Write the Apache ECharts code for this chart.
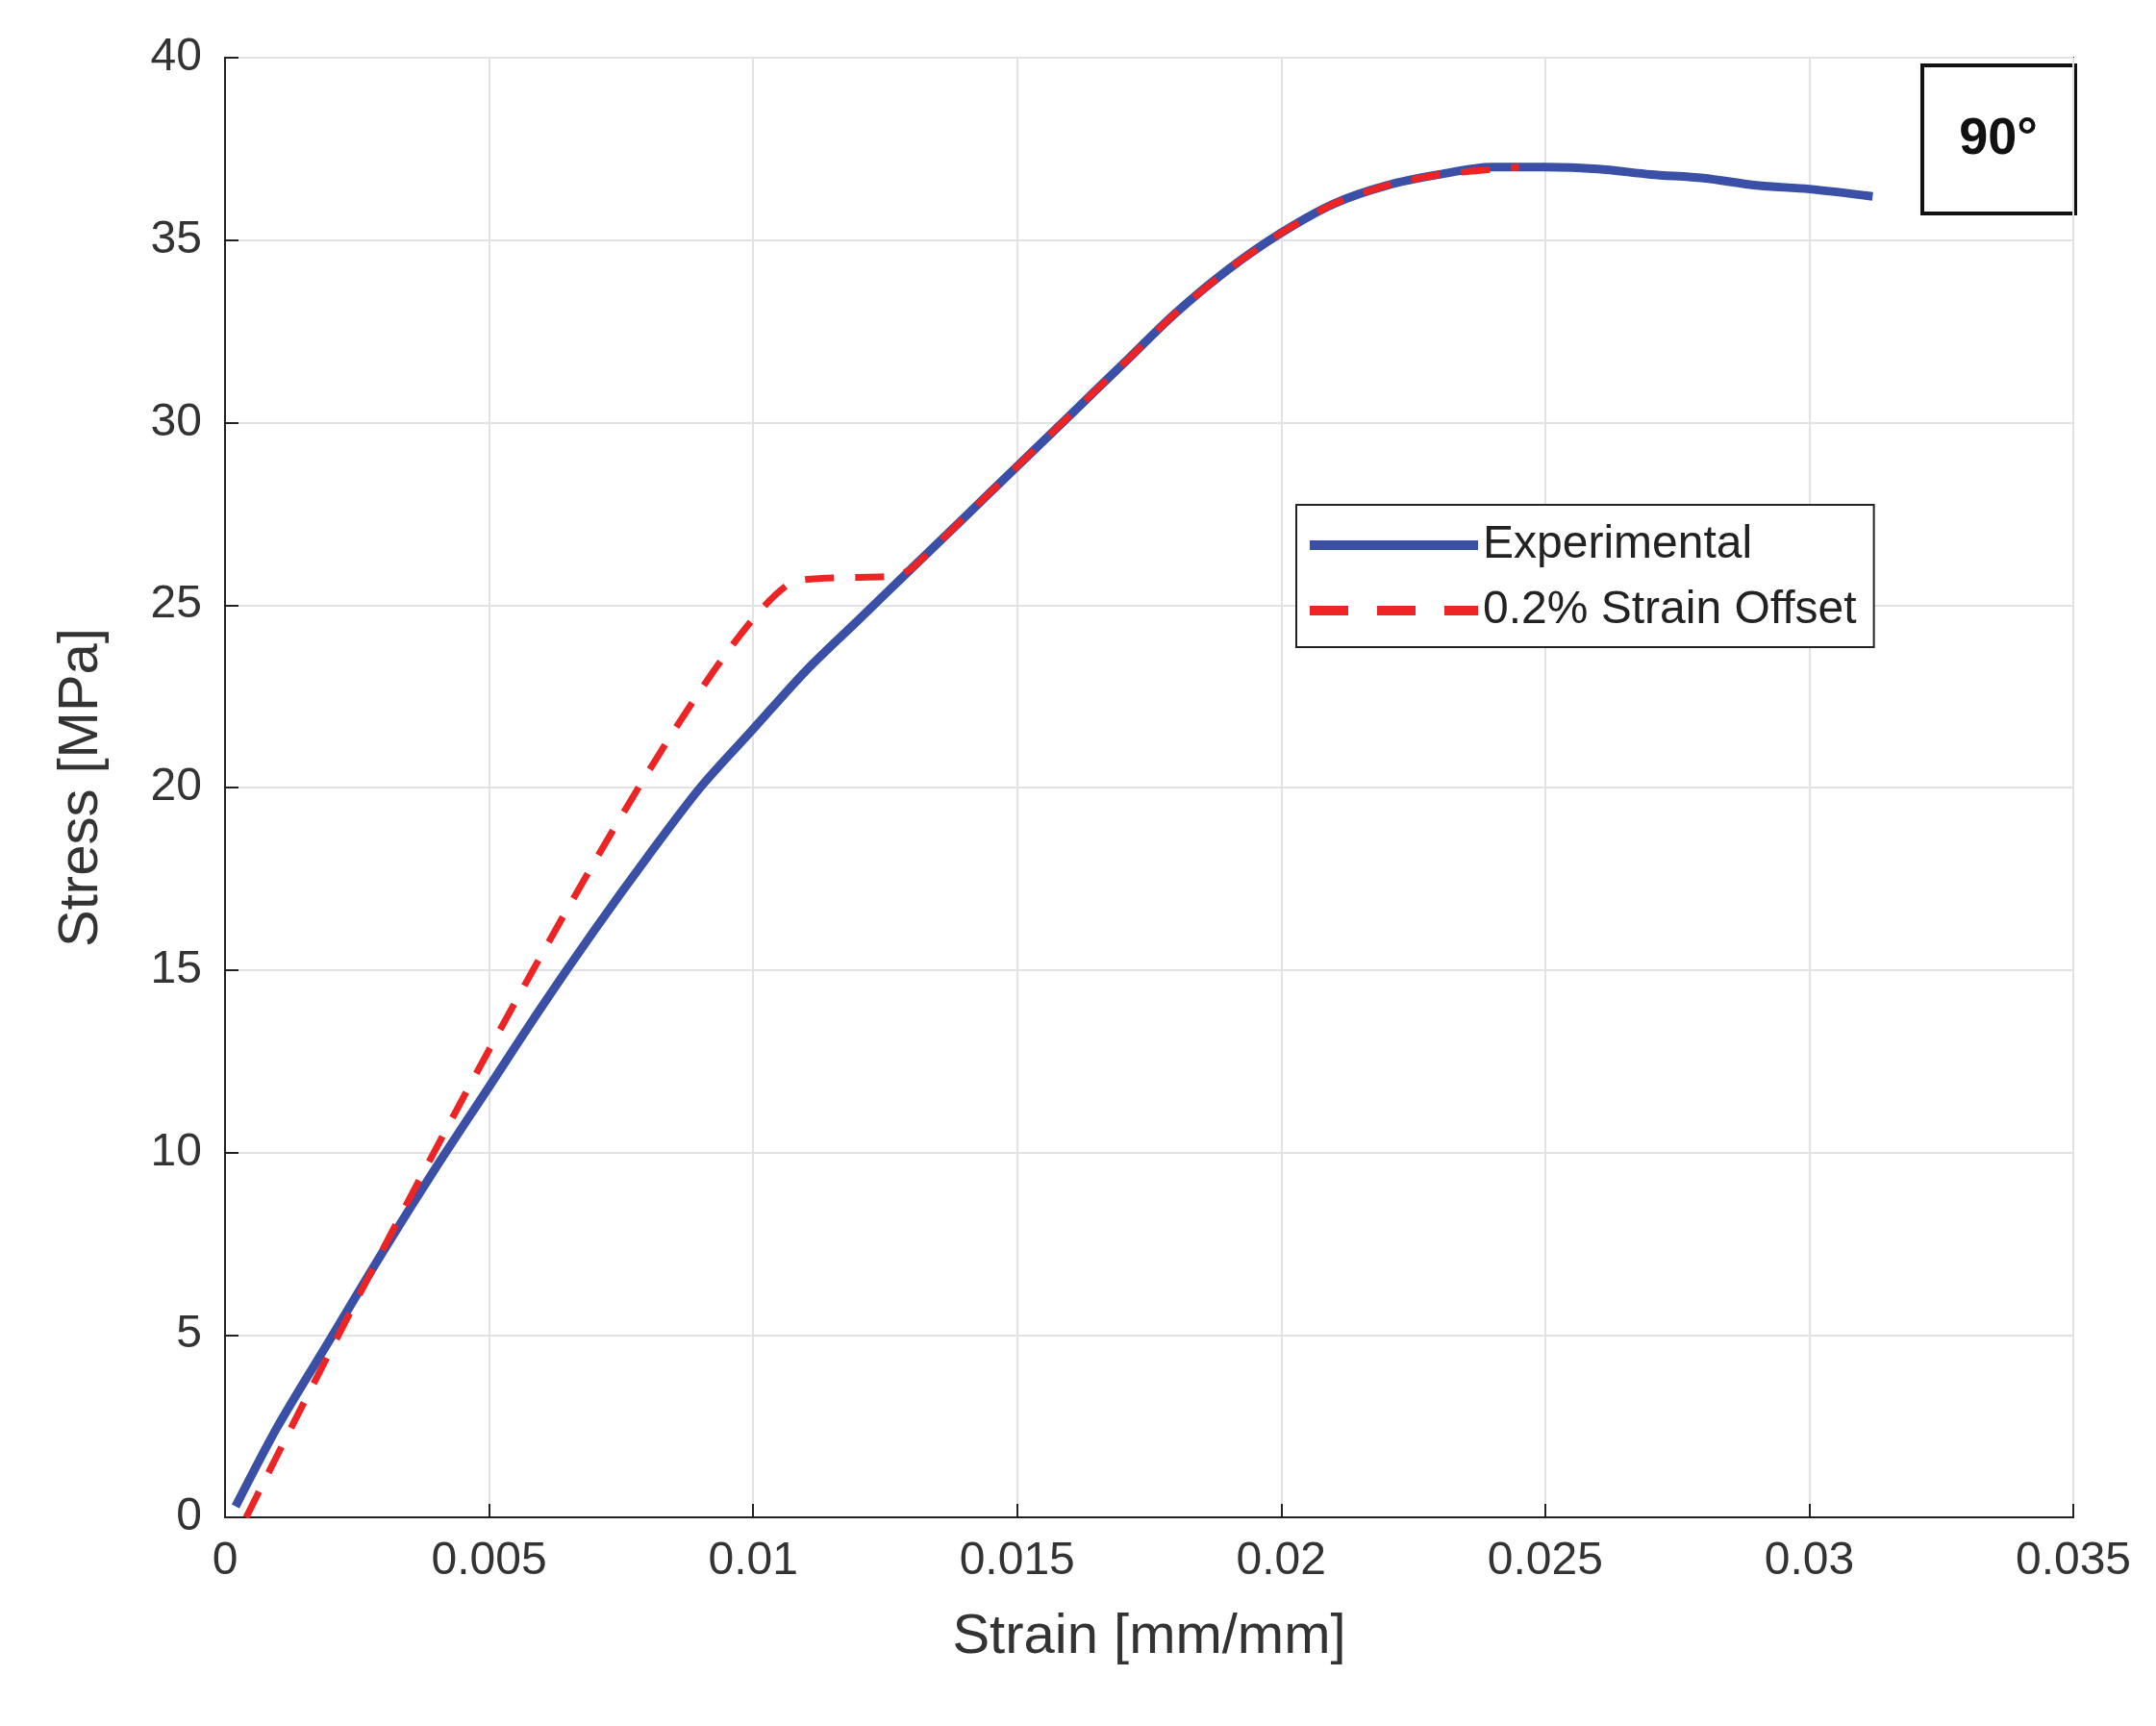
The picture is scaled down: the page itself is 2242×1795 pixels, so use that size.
<!DOCTYPE html>
<html>
<head>
<meta charset="utf-8">
<script src="https://cdn.jsdelivr.net/npm/echarts@6/dist/echarts.min.js"></script>
<style>html,body{margin:0;background:#fff}#chart{width:2242px;height:1795px}</style>
</head>
<body>
<div id="chart"></div>
<script>
var expStrain = [0.0002, 0.001, 0.002, 0.003, 0.004, 0.005, 0.006, 0.007, 0.008, 0.009, 0.010, 0.011, 0.012, 0.013, 0.014, 0.015, 0.016, 0.017, 0.018, 0.019, 0.020, 0.021, 0.022, 0.023, 0.024, 0.025, 0.026, 0.027, 0.028, 0.029, 0.030, 0.0312];
var expStress = [0.3, 2.5, 4.9, 7.3, 9.6, 11.8, 14.0, 16.1, 18.1, 20.0, 21.6, 23.2, 24.6, 26.0, 27.4, 28.8, 30.2, 31.6, 33.0, 34.2, 35.2, 36.0, 36.5, 36.8, 37.0, 37.0, 36.95, 36.8, 36.7, 36.5, 36.4, 36.2];
var offStrain = [0.0004, 0.0107, 0.0127, 0.013, 0.014, 0.015, 0.016, 0.017, 0.018, 0.019, 0.020, 0.021, 0.022, 0.023, 0.0245];
var offStress = [0, 25.6, 25.8, 26.0, 27.4, 28.8, 30.2, 31.6, 33.0, 34.2, 35.2, 36.0, 36.5, 36.8, 37.0];

function pairs(xs, ys) {
  var out = [];
  for (var i = 0; i < xs.length; i++) out.push([xs[i], ys[i]]);
  return out;
}

var chart = echarts.init(document.getElementById('chart'));
var font = 'Helvetica, Arial, "Liberation Sans", sans-serif';
chart.setOption({
  animation: false,
  grid: { left: 234, right: 86, top: 60, bottom: 217, show: true, borderColor: '#222', borderWidth: 2 },
  xAxis: {
    type: 'value', min: 0, max: 0.035, interval: 0.005,
    name: 'Strain [mm/mm]', nameLocation: 'middle', nameGap: 96,
    nameTextStyle: { fontSize: 58, color: '#333', fontFamily: font },
    axisLine: { lineStyle: { color: '#222', width: 2 } },
    axisTick: { inside: true, length: 14, lineStyle: { color: '#222', width: 2 } },
    axisLabel: { fontSize: 48, color: '#333', margin: 22, fontFamily: font },
    splitLine: { lineStyle: { color: '#e2e2e2', width: 2 } }
  },
  yAxis: {
    type: 'value', min: 0, max: 40, interval: 5,
    name: 'Stress [MPa]', nameLocation: 'middle', nameGap: 120,
    nameTextStyle: { fontSize: 58, color: '#333', fontFamily: font },
    axisLine: { lineStyle: { color: '#222', width: 2 } },
    axisTick: { inside: true, length: 14, lineStyle: { color: '#222', width: 2 } },
    axisLabel: { fontSize: 48, color: '#333', margin: 24, fontFamily: font },
    splitLine: { lineStyle: { color: '#e2e2e2', width: 2 } }
  },
  legend: {
    orient: 'vertical', left: 1348, top: 525, width: 657,
    padding: [18, 18, 14, 14], itemGap: 20, itemWidth: 175, itemHeight: 10,
    borderColor: '#222', borderWidth: 2, backgroundColor: '#fff',
    textStyle: { fontSize: 48, color: '#222', fontFamily: font },
    data: [
      { name: 'Experimental', icon: 'rect' },
      { name: '0.2% Strain Offset', icon: 'path://M0,0H40V10H0Z M70,0H110V10H70Z M140,0H175V10H140Z' }
    ]
  },
  graphic: [{
    type: 'group', left: 1997, top: 66,
    children: [
      { type: 'rect', shape: { x: 0, y: 0, width: 159, height: 154 }, style: { fill: '#fff', stroke: '#111', lineWidth: 4 } },
      { type: 'text', x: 79, y: 77, style: { text: '90°', fontSize: 54, fontWeight: 'bold', fill: '#111', align: 'center', verticalAlign: 'middle', fontFamily: font } }
    ]
  }],
  series: [
    {
      name: 'Experimental', type: 'line', data: pairs(expStrain, expStress),
      smooth: 0.3, showSymbol: false, z: 2,
      lineStyle: { color: '#3a4fa6', width: 9 }, itemStyle: { color: '#3a4fa6' }
    },
    {
      name: '0.2% Strain Offset', type: 'line', data: pairs(offStrain, offStress),
      smooth: 0.2, showSymbol: false, z: 3,
      lineStyle: { color: '#ee2424', width: 7, type: [30, 22] }, itemStyle: { color: '#ee2424' }
    }
  ]
});
</script>
</body>
</html>
